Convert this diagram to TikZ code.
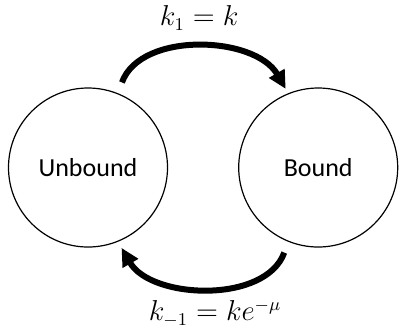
\documentclass[tikz,border=0pt]{standalone}
\usepackage{fontspec}
\setmainfont{Carlito}
\usetikzlibrary{arrows.meta,positioning}

\begin{document}
\begin{tikzpicture}[x=0.5pt,y=0.5pt,
  state/.style={draw, circle, line width=0.6pt, minimum size=79.5pt, inner sep=0pt, font=\fontsize{13}{15}\selectfont},
  rate/.style={-{Triangle[length=9pt,width=8.5pt]}, line width=3pt, looseness=1},
  lab/.style={inner sep=0pt, font=\fontsize{13.5}{16}\selectfont}]
\useasboundingbox (0,0) rectangle (399,329);
\node[state] (unb) at (88,161.5) {Unbound};
\node[state, right=35pt of unb] (bnd) {Bound};

\draw[rate, shorten <=5.75pt, shorten >=2.5pt] (unb.68) to[out=70,in=120] node[lab, above=7.5pt] {$k_1 = k$} (bnd.112);
\draw[rate, shorten <=5.75pt, shorten >=3.5pt] (bnd.-112) to[out=-110,in=-60] node[lab, below=5pt, xshift=4pt] {$k_{-1} = ke^{-\mu}$} (unb.-68);

\end{tikzpicture}
\end{document}
